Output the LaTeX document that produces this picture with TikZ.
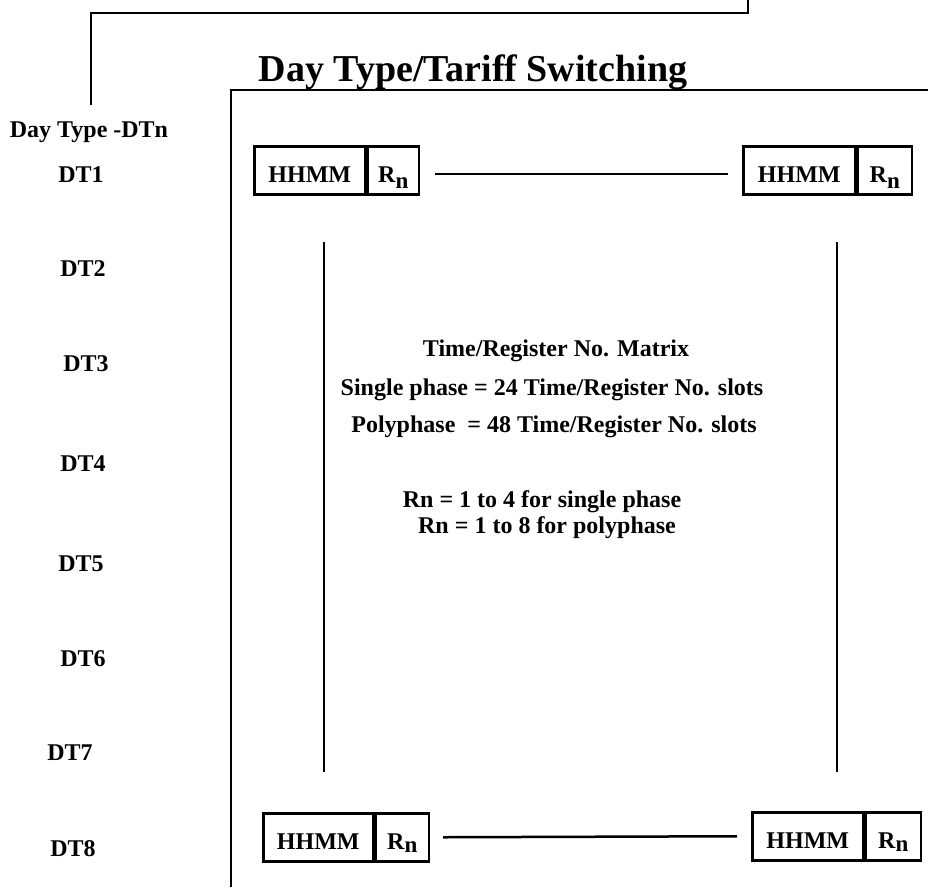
\documentclass[tikz,border=0pt]{standalone}
\usepackage{fontspec}
\setmainfont{Liberation Serif}
\usepackage{tikz}
\usetikzlibrary{positioning}

\newcommand{\rsub}[1]{R\raisebox{#1}{\fontsize{23}{23}\selectfont n}}

\begin{document}
\begin{tikzpicture}[x=1pt,y=-1pt,line width=2.5pt,
    txt/.style={font=\fontsize{24}{24}\selectfont\bfseries, inner sep=0pt, anchor=base},
    cell/.style={draw, inner sep=0pt, font=\fontsize{24}{24}\selectfont\bfseries,
                 text height=36pt, text depth=12pt}]

    \useasboundingbox (0,0) rectangle (928,887);

    % outer frames
    \draw (91,105) -- (91,13) -- (748,13) -- (748,0);
    \draw (231,887) -- (231,90) -- (928,90);

    \node[txt, font=\fontsize{38}{38}\selectfont\bfseries] (title) at (473,81) {Day Type/Tariff Switching};

    % day type labels
    \node[txt] (dtn) at (89,137) {Day Type -DTn};
    \node[txt] (dt1) at (81,182) {DT1};
    \node[txt] (dt2) at (83,276) {DT2};
    \node[txt] (dt3) at (86,371) {DT3};
    \node[txt] (dt4) at (83,471) {DT4};
    \node[txt] (dt5) at (81,571) {DT5};
    \node[txt] (dt6) at (83,666) {DT6};
    \node[txt] (dt7) at (70,760) {DT7};
    \node[txt] (dt8) at (73,856) {DT8};

    % time/register slots
    \node[cell, minimum width=111pt, anchor=north west] (tlH) at (253,145) {HHMM};
    \node[cell, minimum width=51pt, right=0pt of tlH] (tlR) {\rsub{-6pt}};
    \node[cell, minimum width=112pt, anchor=north west] (trH) at (742,145) {HHMM};
    \node[cell, minimum width=54pt, right=0pt of trH] (trR) {\rsub{-6pt}};

    \node[cell, minimum width=110pt, anchor=north west] (blH) at (262,812) {HHMM};
    \node[cell, minimum width=53pt, right=0pt of blH] (blR) {\rsub{-3pt}};
    \node[cell, minimum width=111pt, anchor=north west] (brH) at (751,811) {HHMM};
    \node[cell, minimum width=55pt, right=0pt of brH] (brR) {\rsub{-3pt}};

    \draw ([xshift=15pt,yshift=-3.5pt]tlR.east) -- ([xshift=-14pt,yshift=-3.5pt]trH.west);
    \draw ([xshift=13pt]blR.east) -- ([xshift=-14pt]brH.west);

    \draw (324,242) -- (324,772);
    \draw (837,242) -- (837,772);

    % matrix notes
    \node[txt] (mtx) at (556,356) {Time/Register No. Matrix};
    \node[txt] (sph) at (552,395) {Single phase = 24 Time/Register No. slots};
    \node[txt] (pph) at (554,432) {Polyphase \ = 48 Time/Register No. slots};
    \node[txt] (rn1) at (542,507) {Rn = 1 to 4 for single phase};
    \node[txt] (rn2) at (547,533) {Rn = 1 to 8 for polyphase};

\end{tikzpicture}
\end{document}
